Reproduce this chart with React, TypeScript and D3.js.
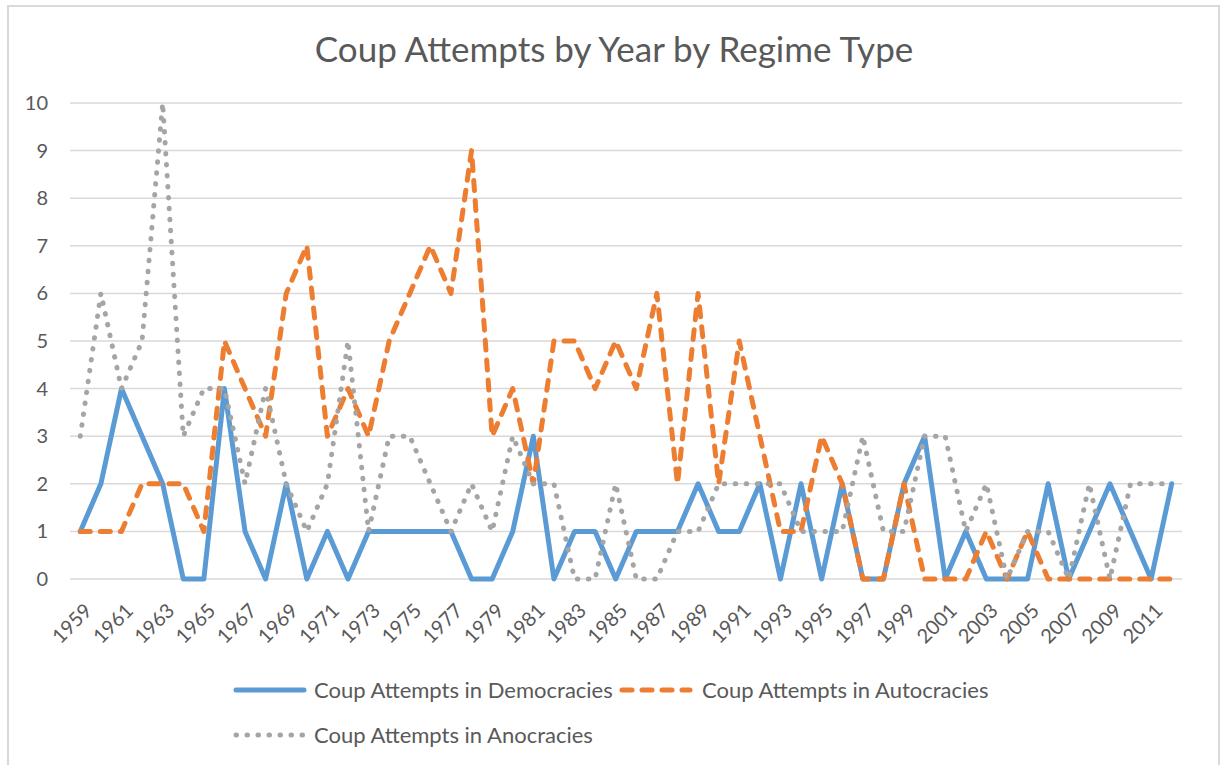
import React, { useEffect, useRef } from "react";
import * as d3 from "d3";

const years = [
  "1959", "1960", "1961", "1962", "1963", "1964", "1965", "1966", "1967", "1968",
  "1969", "1970", "1971", "1972", "1973", "1974", "1975", "1976", "1977", "1978",
  "1979", "1980", "1981", "1982", "1983", "1984", "1985", "1986", "1987", "1988",
  "1989", "1990", "1991", "1992", "1993", "1994", "1995", "1996", "1997", "1998",
  "1999", "2000", "2001", "2002", "2003", "2004", "2005", "2006", "2007", "2008",
  "2009", "2010", "2011", "2012",
];

const democracies = [
  1, 2, 4, 3, 2, 0, 0, 4, 1, 0,
  2, 0, 1, 0, 1, 1, 1, 1, 1, 0,
  0, 1, 3, 0, 1, 1, 0, 1, 1, 1,
  2, 1, 1, 2, 0, 2, 0, 2, 0, 0,
  2, 3, 0, 1, 0, 0, 0, 2, 0, 1,
  2, 1, 0, 2,
];

const autocracies = [
  1, 1, 1, 2, 2, 2, 1, 5, 4, 3,
  6, 7, 3, 4, 3, 5, 6, 7, 6, 9,
  3, 4, 2, 5, 5, 4, 5, 4, 6, 2,
  6, 2, 5, 3, 1, 1, 3, 2, 0, 0,
  2, 0, 0, 0, 1, 0, 1, 0, 0, 0,
  0, 0, 0, 0,
];

const anocracies = [
  3, 6, 4, 5, 10, 3, 4, 4, 2, 4,
  2, 1, 2, 5, 1, 3, 3, 2, 1, 2,
  1, 3, 2, 2, 0, 0, 2, 0, 0, 1,
  1, 2, 2, 2, 2, 1, 1, 1, 3, 1,
  1, 3, 3, 1, 2, 0, 1, 1, 0, 2,
  0, 2, 2, 2,
];

const yTicks = [0, 1, 2, 3, 4, 5, 6, 7, 8, 9, 10];

const seriesNames = [
  "Coup Attempts in Democracies",
  "Coup Attempts in Autocracies",
  "Coup Attempts in Anocracies",
];
const seriesColors = ["#5B9BD5", "#ED7D31", "#A5A5A5"];
const seriesDash = [null, "10,10", "0.5,10.5"];

const FONT = "Lato, 'Open Sans', sans-serif";
const TEXT_COLOR = "#595959";

export default function App() {
  const svgRef = useRef<SVGSVGElement>(null);

  useEffect(() => {
    const width = 1222;
    const height = 765;
    const margin = { top: 103, right: 40, bottom: 186, left: 70 };

    const svg = d3.select(svgRef.current);
    svg.selectAll("*").remove();

    // outer chart border
    svg
      .append("rect")
      .attr("x", 8)
      .attr("y", 6)
      .attr("width", 1211)
      .attr("height", 780)
      .attr("fill", "white")
      .attr("stroke", "#d9d9d9")
      .attr("stroke-width", 2);

    const x = d3
      .scalePoint()
      .domain(years)
      .range([margin.left, width - margin.right])
      .padding(0.5);

    const y = d3
      .scaleLinear()
      .domain([0, 10])
      .range([height - margin.bottom, margin.top]);

    // title
    svg
      .append("text")
      .attr("x", 614)
      .attr("y", 62)
      .attr("text-anchor", "middle")
      .style("font-family", FONT)
      .style("font-size", "35px")
      .style("fill", TEXT_COLOR)
      .text("Coup Attempts by Year by Regime Type");

    // gridlines
    svg
      .selectAll(".grid")
      .data(yTicks)
      .enter()
      .append("line")
      .attr("x1", margin.left)
      .attr("x2", width - margin.right)
      .attr("y1", (d) => y(d))
      .attr("y2", (d) => y(d))
      .attr("stroke", "#d9d9d9")
      .attr("stroke-width", 1.5);

    // y tick labels
    svg
      .selectAll(".ylab")
      .data(yTicks)
      .enter()
      .append("text")
      .attr("x", 48)
      .attr("y", (d) => y(d))
      .attr("dy", "0.35em")
      .attr("text-anchor", "end")
      .style("font-family", FONT)
      .style("font-size", "20px")
      .style("fill", TEXT_COLOR)
      .text((d) => d);

    // x tick labels, every other year
    svg
      .selectAll(".xlab")
      .data(years.filter((_, i) => i % 2 === 0 && i < years.length - 1))
      .enter()
      .append("text")
      .attr("transform", (d) => `translate(${x(d)! + 8},${height - margin.bottom + 28}) rotate(-45)`)
      .attr("text-anchor", "end")
      .attr("dy", "0.35em")
      .style("font-family", FONT)
      .style("font-size", "20px")
      .style("fill", TEXT_COLOR)
      .text((d) => d);

    const allSeries = [democracies, autocracies, anocracies];
    const line = d3
      .line<number>()
      .x((_, i) => x(years[i])!)
      .y((d) => y(d));

    allSeries.forEach((values, k) => {
      svg
        .append("path")
        .datum(values)
        .attr("d", line)
        .attr("fill", "none")
        .attr("stroke", seriesColors[k])
        .attr("stroke-width", 5)
        .attr("stroke-linejoin", "round")
        .attr("stroke-linecap", "round")
        .attr("stroke-dasharray", seriesDash[k]);
    });

    // legend
    const legendItems = [
      { x: 236, y: 690, idx: 0 },
      { x: 622, y: 690, idx: 1 },
      { x: 236, y: 735, idx: 2 },
    ];
    legendItems.forEach((item) => {
      const g = svg.append("g").attr("transform", `translate(${item.x},${item.y})`);
      g.append("line")
        .attr("x1", 0)
        .attr("x2", 68)
        .attr("y1", 0)
        .attr("y2", 0)
        .attr("stroke", seriesColors[item.idx])
        .attr("stroke-width", 5)
        .attr("stroke-linecap", "round")
        .attr("stroke-dasharray", seriesDash[item.idx]);
      g.append("text")
        .attr("x", item.idx === 1 ? 80 : 78)
        .attr("y", 0)
        .attr("dy", "0.35em")
        .style("font-family", FONT)
        .style("font-size", "22px")
        .style("fill", TEXT_COLOR)
        .text(seriesNames[item.idx]);
    });
  }, []);

  return (
    <svg
      ref={svgRef}
      width={1222}
      height={765}
      style={{ position: "absolute", left: 0, top: 0, background: "white" }}
    />
  );
}
